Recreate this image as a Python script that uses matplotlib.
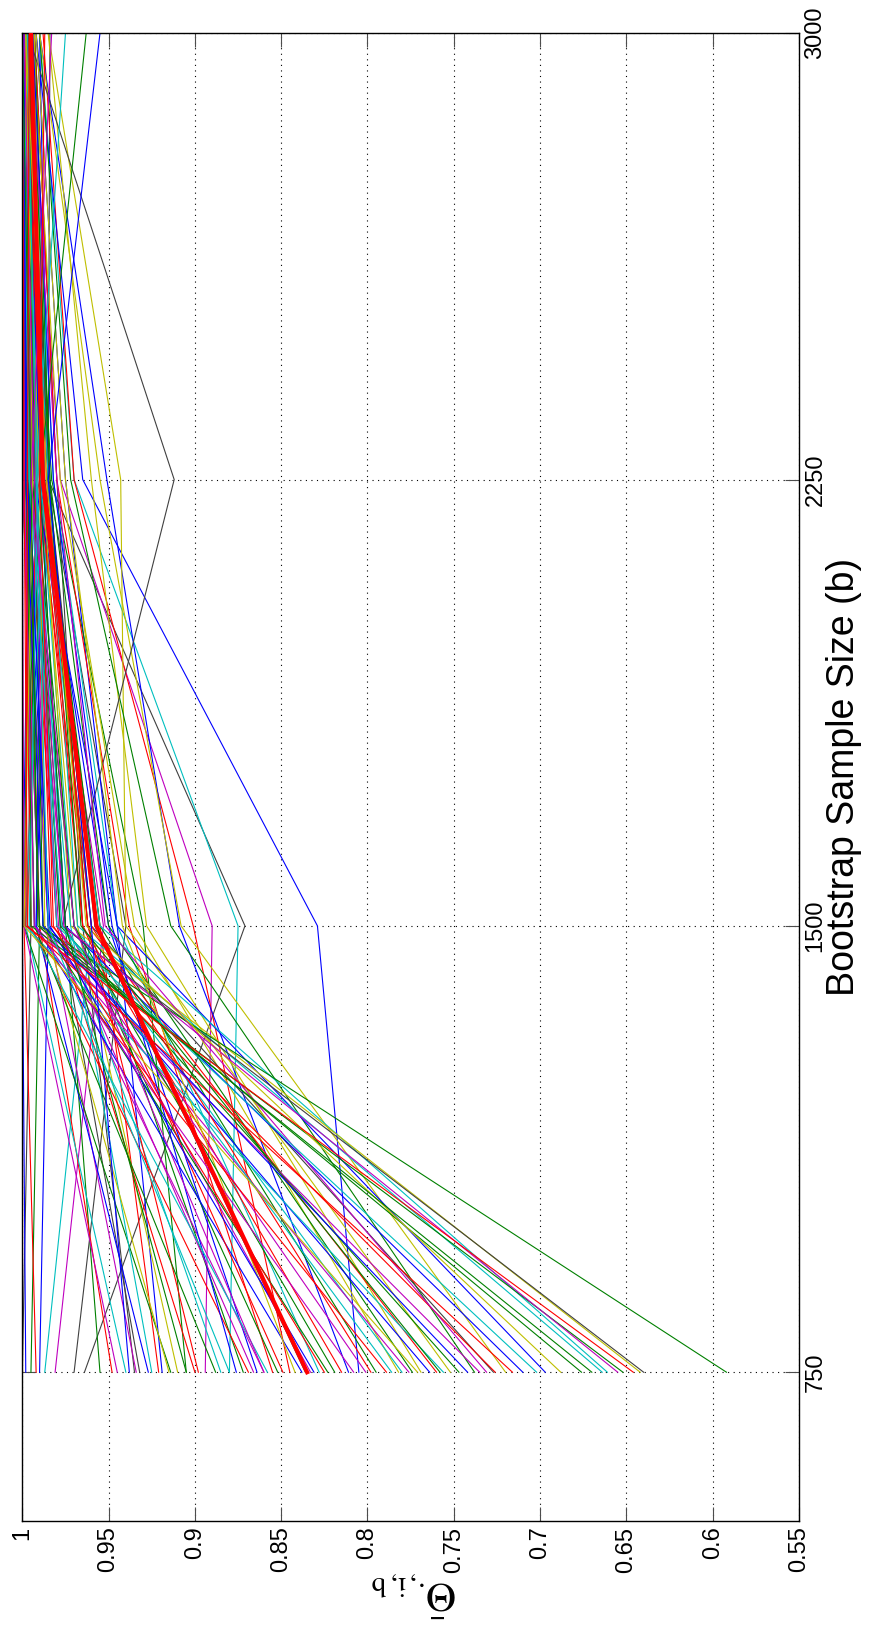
import matplotlib
matplotlib.use("Agg")
import matplotlib.pyplot as plt

plt.rcParams['font.family'] = ['Liberation Sans', 'DejaVu Sans']
plt.rcParams['mathtext.fontset'] = 'stix'

# Bootstrap sample sizes at which the statistic was evaluated
sample_sizes = [750, 1500, 2250, 3000]

# Per-item statistic values at each bootstrap sample size
theta_750 = [
    1.000, 1.000, 0.998, 0.995, 0.992, 0.990, 0.987, 0.981, 0.970, 0.964,
    0.955, 0.948, 0.940, 0.935, 0.934, 0.932, 0.927, 0.921, 0.919, 0.914,
    0.910, 0.905, 0.900, 0.894, 0.885, 0.880, 0.872, 0.869, 0.864, 0.860,
    0.855, 0.852, 0.845, 0.838, 0.836, 0.833, 0.828, 0.823, 0.815, 0.811,
    0.805, 0.801, 0.795, 0.789, 0.782, 0.780, 0.776, 0.774, 0.769, 0.764,
    0.760, 0.756, 0.752, 0.747, 0.738, 0.735, 0.727, 0.726, 0.720, 0.710,
    0.697, 0.676, 0.664, 0.661, 0.652, 0.642, 0.640, 0.592, 0.945, 0.925,
    0.915, 0.898, 0.888, 0.876, 0.866, 0.858, 0.849, 0.842, 0.831, 0.819,
    0.808, 0.798, 0.786, 0.771, 0.758, 0.742, 0.731, 0.716, 0.702, 0.688,
    0.670, 0.655, 0.646, 0.938, 0.905, 0.880, 0.860, 0.825,
]
theta_1500 = [
    1.000, 0.995, 1.000, 0.990, 0.999, 0.985, 0.960, 0.953, 0.940, 0.871,
    0.975, 0.990, 0.998, 0.965, 0.985, 0.978, 0.992, 0.955, 0.945, 0.999,
    0.968, 0.930, 0.980, 0.890, 0.975, 0.875, 0.962, 0.995, 0.950, 0.985,
    0.938, 0.970, 0.901, 0.992, 0.958, 0.975, 0.945, 0.988, 0.965, 0.909,
    0.829, 0.980, 0.955, 0.997, 0.935, 0.970, 0.990, 0.950, 0.928, 0.985,
    0.962, 0.998, 0.940, 0.978, 0.914, 0.993, 0.960, 0.983, 0.908, 0.975,
    0.945, 0.988, 0.968, 0.955, 0.995, 0.972, 0.977, 0.990, 0.999, 0.972,
    0.987, 0.962, 0.993, 0.948, 0.979, 0.996, 0.965, 0.942, 0.984, 0.970,
    0.993, 0.960, 0.977, 0.999, 0.966, 0.988, 0.952, 0.997, 0.980, 0.963,
    0.991, 0.976, 0.998, 0.960, 0.975, 0.985, 0.970, 0.982,
]
theta_2250 = [
    1.000, 0.998, 0.996, 1.000, 0.995, 0.998, 0.990, 0.992, 0.985, 0.985,
    0.995, 0.997, 0.990, 0.980, 1.000, 0.993, 0.985, 0.988, 0.975, 0.996,
    0.990, 0.983, 0.997, 0.978, 0.992, 0.970, 0.985, 0.999, 0.990, 0.994,
    0.980, 0.996, 0.970, 0.989, 0.985, 0.998, 0.982, 0.993, 0.990, 0.951,
    0.965, 0.995, 0.987, 0.992, 0.978, 0.990, 1.000, 0.984, 0.960, 0.996,
    0.991, 0.987, 0.943, 0.994, 0.972, 0.999, 0.985, 0.992, 0.955, 0.990,
    0.993, 0.997, 0.985, 0.990, 0.996, 0.988, 0.912, 0.998, 1.000, 0.996,
    0.990, 0.986, 0.998, 0.982, 0.995, 0.991, 0.988, 0.975, 0.997, 0.993,
    0.999, 0.989, 0.996, 0.994, 0.984, 0.998, 0.980, 0.999, 0.992, 0.986,
    0.995, 0.993, 0.997, 0.985, 0.990, 0.992, 0.995, 0.990,
]
theta_3000 = [
    1.000, 1.000, 0.999, 0.998, 1.000, 0.996, 0.999, 0.997, 0.984, 0.998,
    1.000, 0.999, 0.996, 0.993, 0.998, 1.000, 0.990, 0.997, 0.992, 1.000,
    0.995, 0.999, 0.994, 0.996, 0.998, 0.990, 0.997, 1.000, 0.996, 0.999,
    0.993, 1.000, 0.988, 0.997, 0.994, 0.999, 0.995, 0.998, 1.000, 0.990,
    0.992, 0.997, 0.999, 0.996, 0.994, 0.998, 0.999, 0.993, 0.985, 1.000,
    0.997, 0.995, 0.985, 0.999, 0.990, 0.998, 0.996, 1.000, 0.990, 0.997,
    0.999, 0.995, 0.998, 1.000, 0.999, 0.993, 0.997, 1.000, 0.998, 0.999,
    1.000, 0.997, 0.996, 0.994, 1.000, 0.998, 0.999, 0.992, 1.000, 0.996,
    0.999, 0.997, 1.000, 0.998, 0.995, 0.999, 0.996, 1.000, 0.997, 0.998,
    1.000, 0.999, 0.996, 0.955, 0.963, 0.975, 0.983, 0.987,
]

# MATLAB-style colour code for each item's line
line_colors = ("rkbgrbcmkk" "grckmkbrbg" "ygrmccgrbm" "rgrbkmcgrb" "bmgrycmgyb"
               "rcyggmkryb" "bgccgykgmc" "yrgbmcrybg" "mrcygbmrcy" "gmrbgcmr")

# Average over all items
mean_theta = [0.835, 0.957, 0.988, 0.995]

theta_ticks = [0.55, 0.60, 0.65, 0.70, 0.75, 0.80, 0.85, 0.90, 0.95, 1.00]
theta_tick_labels = ['0.55', '0.6', '0.65', '0.7', '0.75', '0.8', '0.85', '0.9', '0.95', '1']
b_ticks = [750, 1500, 2250, 3000]
b_tick_labels = ['750', '1500', '2250', '3000']

palette = {
    'b': (0.0, 0.0, 1.0),
    'g': (0.0, 0.5, 0.0),
    'r': (1.0, 0.0, 0.0),
    'c': (0.0, 0.75, 0.75),
    'm': (0.75, 0.0, 0.75),
    'y': (0.75, 0.75, 0.0),
    'k': (0.25, 0.25, 0.25),
}

fig = plt.figure(figsize=(8.75, 16.29), dpi=100)
ax = fig.add_axes([0.0255, 0.0663, 0.8876, 0.9133])

for i in range(len(theta_750)):
    values = [theta_750[i], theta_1500[i], theta_2250[i], theta_3000[i]]
    ax.plot(values, sample_sizes, color=palette[line_colors[i]], lw=0.8, zorder=2)

ax.plot(mean_theta, sample_sizes, color='red', lw=3.0, zorder=3)

ax.set_xlim(1.0, 0.55)
ax.set_ylim(500, 3000)
ax.set_xticks(theta_ticks)
ax.set_xticklabels(theta_tick_labels)
ax.set_yticks(b_ticks)
ax.set_yticklabels(b_tick_labels)

ax.grid(True, color='black', linestyle=(0, (1, 4)), linewidth=0.8, zorder=1)
ax.set_axisbelow(True)

ax.tick_params(axis='x', direction='in', top=True, bottom=True, length=10,
               width=0.8, labelsize=17, pad=4, labelrotation=90, color='0.3')
ax.tick_params(axis='y', direction='in', left=True, right=True, labelleft=False,
               labelright=True, length=10, width=0.8, labelsize=17, pad=4,
               labelrotation=90, color='0.3')
for lbl in ax.get_yticklabels():
    lbl.set_va('center')
    lbl.set_ha('left')

for sp in ax.spines.values():
    sp.set_linewidth(1.0)
    sp.set_color('black')

ax.text(1.058, 0.5, 'Bootstrap Sample Size (b)', transform=ax.transAxes,
        rotation=90, ha='center', va='center', fontsize=27)
fig.text(0.473, 0.0215, r'$\bar{\Theta}_{\cdot,\mathrm{i,b}}$', rotation=180,
         ha='center', va='center', fontsize=30)

fig.savefig('out.png', dpi=100)
